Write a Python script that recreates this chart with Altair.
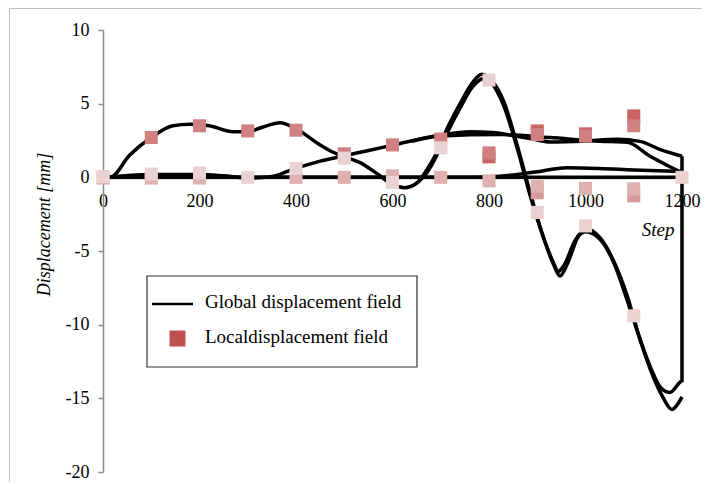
import altair as alt
import pandas as pd

# ---------------- data ----------------
# Global displacement field curves
ga_steps = [0, 15, 55, 100, 145, 180, 220, 270, 300, 330, 367, 400, 450, 477, 505, 533, 570, 601, 625, 650,
            671, 692, 713, 740, 765, 785, 805, 830, 860, 885, 912, 935, 947, 962, 985, 1003, 1030, 1060,
            1086, 1113, 1140, 1160, 1179, 1195, 1200]
ga_vals = [0, 0, 1.5, 2.7, 3.5, 3.6, 3.5, 3.1, 3.1, 3.4, 3.7, 3.3, 2.2, 1.7, 1.35, 1.0, 0.2, -0.5, -0.7, -0.4,
           0.5, 1.7, 3.3, 5.0, 6.4, 7.0, 6.6, 5.2, 2.0, -1.0, -4.0, -6.0, -6.7, -5.9, -4.0, -3.5, -4.1, -5.8,
           -8.0, -11.0, -13.5, -14.9, -15.75, -15.2, -14.9]

gb_steps = [650, 671, 692, 713, 740, 765, 790, 805, 830, 860, 885, 912, 935, 943, 955, 980, 1000, 1030,
            1060, 1086, 1113, 1140, 1154, 1175, 1196, 1200]
gb_vals = [-0.4, 0.3, 1.5, 3.0, 4.7, 6.1, 6.7, 6.4, 4.9, 1.8, -1.2, -4.0, -5.9, -6.4, -6.0, -4.2, -3.7, -4.2,
           -5.9, -8.3, -11.0, -13.3, -14.2, -14.6, -13.9, -13.8]

gc_steps = [0, 100, 200, 250, 300, 350, 394, 450, 477, 505, 533, 589, 616, 698, 760, 808, 858, 891, 926,
            995, 1065, 1113, 1154, 1200]
gc_vals = [0, 0.2, 0.2, 0.1, -0.05, 0.05, 0.55, 1.1, 1.3, 1.5, 1.7, 2.1, 2.3, 2.85, 3.1, 3.05, 2.78, 2.6,
           2.4, 2.45, 2.58, 2.44, 1.9, 1.43]

gd_steps = [640, 700, 823, 926, 1030, 1086, 1134, 1170, 1200]
gd_vals = [2.45, 2.8, 2.9, 2.7, 2.45, 2.38, 1.43, 0.8, 0.3]

ge_steps = [0, 760, 823, 891, 962, 1030, 1100, 1200]
ge_vals = [0, 0, 0.07, 0.34, 0.65, 0.6, 0.5, 0.4]

gf_steps = [0, 1200]
gf_vals = [0, 0]

# vertical closing segment at step 1200
vert_step = [1200]
vert_from = [-13.9]
vert_to = [1.43]

# Local displacement field markers (drawn in this order)
m_steps = [800, 900, 1000, 1100,
           100, 200, 300, 400, 500, 600, 700, 800, 900, 1000, 1100,
           900, 1100,
           0, 100, 200, 400, 500, 600, 700, 800, 900, 1000, 1100,
           0, 100, 200, 300, 400, 500, 600, 700, 800, 900, 1000, 1100, 1200]
m_vals = [1.39, 3.15, 2.95, 4.17,
          2.7, 3.5, 3.15, 3.2, 1.6, 2.2, 2.6, 1.66, 2.9, 2.8, 3.5,
          -1.05, -1.26,
          -0.05, -0.05, -0.05, 0.0, 0.0, 0.1, 0.0, -0.24, -0.6, -0.75, -0.78,
          0.05, 0.22, 0.3, 0.0, 0.6, 1.3, -0.35, 2.0, 6.6, -2.38, -3.3, -9.4, 0.0]
m_shades = (["d2"] * 4 + ["d1"] * 11 + ["m2"] * 2 + ["m"] * 11 + ["l"] * 13)

shade_names = ["d2", "d1", "m2", "m", "l"]
shade_colors = ["#C86464", "#D08080", "#D89C9C", "#DEB0B0", "#EBD2D2"]

x_ticks = [0, 200, 400, 600, 800, 1000, 1200]
y_ticks = [-20, -15, -10, -5, 0, 5, 10]
legend_labels = ["Global displacement field", "Localdisplacement field"]

FONT = "Liberation Serif"

# ---------------- tables ----------------
rows = []
for name, s, v in [("A", ga_steps, ga_vals), ("B", gb_steps, gb_vals), ("C", gc_steps, gc_vals),
                   ("D", gd_steps, gd_vals), ("E", ge_steps, ge_vals), ("F", gf_steps, gf_vals)]:
    for a, b in zip(s, v):
        rows.append({"series": name, "step": a, "value": b})
lines_df = pd.DataFrame(rows)

markers_df = pd.DataFrame({"step": m_steps, "value": m_vals, "shade": m_shades,
                           "z": list(range(len(m_steps)))})
vert_df = pd.DataFrame({"step": vert_step, "value": vert_from, "value2": vert_to})

x_scale = alt.Scale(domain=[0, 1200], nice=False, zero=False)
y_scale = alt.Scale(domain=[-20, 10], nice=False, zero=False)

x_axis = alt.Axis(values=x_ticks, offset=-294, ticks=False, grid=False,
                  domainColor="#8C8C8C", domainWidth=1.5,
                  labelExpr="datum.value + ''",
                  labelFont=FONT, labelFontSize=18, labelColor="black", labelPadding=14,
                  labelFlush=False,
                  title="Step", titleFont=FONT, titleFontSize=19, titleFontStyle="italic",
                  titleFontWeight="normal", titleColor="black",
                  titleX=571, titleY=57, titleAlign="right", titleBaseline="alphabetic")
y_axis = alt.Axis(values=y_ticks, grid=False, tickSize=5, tickColor="#8C8C8C", tickWidth=1.5,
                  domainColor="#8C8C8C", domainWidth=1.5,
                  labelExpr="datum.value + ''",
                  labelFont=FONT, labelFontSize=18, labelColor="black", labelPadding=9,
                  title="Displacement [mm]", titleFont=FONT, titleFontSize=18,
                  titleFontStyle="italic", titleFontWeight="normal", titleColor="black",
                  titleX=-54, titleY=194, titleAngle=270, titleAlign="center",
                  titleBaseline="alphabetic")


def X(field="step"):
    return alt.X(f"{field}:Q", scale=x_scale, axis=x_axis, title="Step")


def Y(field="value"):
    return alt.Y(f"{field}:Q", scale=y_scale, axis=y_axis, title="Displacement [mm]")


one = pd.DataFrame({"k": [0]})

border = alt.Chart(one).mark_rect(fillOpacity=0, stroke="#BFBFBF", strokeWidth=1).encode(
    x=alt.value(-93.5), x2=alt.value(700), y=alt.value(-21.5), y2=alt.value(500))

lines = alt.Chart(lines_df).mark_line(interpolate="monotone", color="black", strokeWidth=3.5).encode(
    x=X(), y=Y(), detail="series:N", order="step:Q")

vert = alt.Chart(vert_df).mark_rule(color="black", strokeWidth=3.5).encode(
    x=X(), y=Y(), y2="value2:Q")

markers = alt.Chart(markers_df).mark_square(size=170, opacity=1).encode(
    x=X(), y=Y(),
    color=alt.Color("shade:N", scale=alt.Scale(domain=shade_names, range=shade_colors), legend=None),
    order=alt.Order("z:Q"))

# manual legend
leg_box = alt.Chart(one).mark_rect(fill="white", stroke="#333333", strokeWidth=1.2).encode(
    x=alt.value(44), x2=alt.value(314), y=alt.value(246), y2=alt.value(337))
leg_line = alt.Chart(one).mark_rule(color="black", strokeWidth=2.5).encode(
    x=alt.value(49), x2=alt.value(90), y=alt.value(274))
leg_square = alt.Chart(one).mark_square(size=256, color="#C0504D", opacity=1).encode(
    x=alt.value(74.5), y=alt.value(308.5))
leg_text = alt.Chart(pd.DataFrame({"label": legend_labels, "yy": [278, 313]})).mark_text(
    align="left", baseline="alphabetic", font=FONT, fontSize=19, color="black").encode(
    x=alt.value(102), y=alt.Y("yy:Q", scale=None), text="label:N")

chart = alt.layer(border, lines, vert, markers, leg_box, leg_line, leg_square, leg_text).properties(
    width=579, height=442,
    padding={"left": 95, "top": 22, "right": 20, "bottom": 10},
    autosize=alt.AutoSizeParams(type="none"),
).configure_view(stroke=None)

chart.save("out.html", embed_options={"renderer": "svg", "actions": False})
